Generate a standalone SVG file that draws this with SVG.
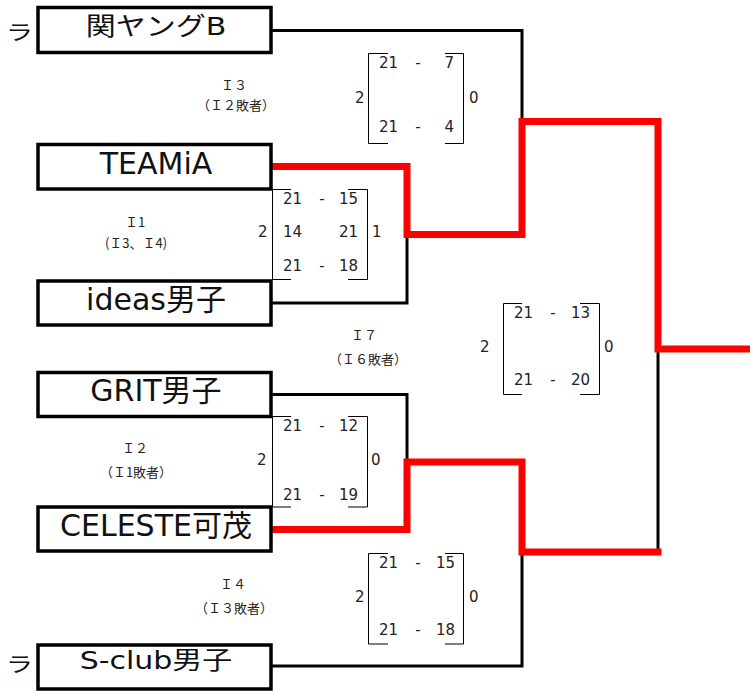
<svg xmlns="http://www.w3.org/2000/svg" width="750" height="691" viewBox="0 0 750 691">
<style>
.box{fill:#fff;stroke:#000;stroke-width:3.5}
.name{font-family:"DejaVu Sans","Noto Sans CJK JP",sans-serif;font-size:30px;fill:#111;text-anchor:middle}
.ra{font-family:"Noto Sans CJK JP",sans-serif;font-size:27px;fill:#111}
.lbl{font-family:"Noto Sans CJK JP",sans-serif;font-size:13px;fill:#222;text-anchor:middle}
.sc{font-family:"DejaVu Sans",sans-serif;font-size:15px;fill:#222}
.br{fill:none;stroke:#000;stroke-width:1}
.blk{fill:none;stroke:#000;stroke-width:3}
.red{fill:none;stroke:#f00;stroke-width:7;stroke-linejoin:miter;stroke-linecap:square}
</style>
<rect width="750" height="691" fill="#fff"/>
<g id="connectors">
<path class="blk" d="M271,30.5 H522 V122"/>
<path class="blk" d="M271,303 H407 V234"/>
<path class="blk" d="M271,394.5 H407 V462"/>
<path class="blk" d="M271,666 H522 V552"/>
<path class="blk" d="M658,349 V552"/>
<path class="red" d="M274,166.5 H407 V234.5 H522 V121.5 H658 V349 H750"/>
<path class="red" d="M274,529.5 H407 V462 H522 V552 H658"/>
</g>
<g id="team1">
<rect class="box" x="38" y="7.5" width="233" height="45"/>
<text class="ra" transform="translate(6,40) scale(1,0.76)">ラ</text>
<text class="name" transform="translate(156,35) scale(1,0.85)">関ヤングB</text>
</g>
<g id="team2">
<rect class="box" x="38" y="144.5" width="233" height="44.5"/>
<text class="name" x="156" y="174">TEAMiA</text>
</g>
<g id="team3">
<rect class="box" x="38" y="281" width="233" height="44"/>
<text class="name" x="156" y="310">ideas男子</text>
</g>
<g id="team4">
<rect class="box" x="38" y="372.5" width="233" height="44"/>
<text class="name" x="156" y="401">GRIT男子</text>
</g>
<g id="team5">
<rect class="box" x="38" y="507" width="233" height="44"/>
<text class="name" x="156" y="536">CELESTE可茂</text>
</g>
<g id="team6">
<rect class="box" x="38" y="645" width="233" height="44"/>
<text class="ra" transform="translate(6,672) scale(1,0.76)">ラ</text>
<text class="name" transform="translate(156,669) scale(1,0.82)">S-club男子</text>
</g>
<g id="label-I3">
<text class="lbl" x="234" y="90">Ｉ３</text>
<text class="lbl" x="236" y="110">（Ｉ２敗者）</text>
</g>
<g id="label-I1">
<text class="lbl" x="135" y="227">Ｉ1</text>
<text class="lbl" x="136" y="248">(Ｉ3、Ｉ4)</text>
</g>
<g id="label-I7">
<text class="lbl" x="364" y="340">Ｉ７</text>
<text class="lbl" x="368" y="364">（Ｉ６敗者）</text>
</g>
<g id="label-I2">
<text class="lbl" x="135" y="453">Ｉ２</text>
<text class="lbl" x="136" y="477">（Ｉ1敗者）</text>
</g>
<g id="label-I4">
<text class="lbl" x="233" y="589">Ｉ４</text>
<text class="lbl" x="234" y="613">（Ｉ３敗者）</text>
</g>
<g id="score-I3">
<path class="br" d="M388,53.5 H368.5 V143.5 H388 M445,53.5 H463.5 V143.5 H445"/>
<text class="sc" x="379" y="68">21</text><text class="sc" x="418" y="68" text-anchor="middle">-</text><text class="sc" x="454" y="68" text-anchor="end">7</text>
<text class="sc" x="379" y="132">21</text><text class="sc" x="418" y="132" text-anchor="middle">-</text><text class="sc" x="454" y="132" text-anchor="end">4</text>
<text class="sc" x="355" y="103">2</text><text class="sc" x="469" y="103">0</text>
</g>
<g id="score-I1">
<path class="br" d="M291,189.5 H272.5 V279.5 H291 M348,189.5 H367.5 V279.5 H348"/>
<text class="sc" x="283" y="204">21</text><text class="sc" x="322" y="204" text-anchor="middle">-</text><text class="sc" x="358" y="204" text-anchor="end">15</text>
<text class="sc" x="283" y="237">14</text><text class="sc" x="358" y="237" text-anchor="end">21</text>
<text class="sc" x="283" y="271">21</text><text class="sc" x="322" y="271" text-anchor="middle">-</text><text class="sc" x="358" y="271" text-anchor="end">18</text>
<text class="sc" x="258" y="237">2</text><text class="sc" x="372" y="237">1</text>
</g>
<g id="score-I7">
<path class="br" d="M522,303.5 H503.5 V394.5 H522 M580,303.5 H599.5 V394.5 H580"/>
<text class="sc" x="514" y="318">21</text><text class="sc" x="553" y="318" text-anchor="middle">-</text><text class="sc" x="590" y="318" text-anchor="end">13</text>
<text class="sc" x="514" y="385">21</text><text class="sc" x="553" y="385" text-anchor="middle">-</text><text class="sc" x="590" y="385" text-anchor="end">20</text>
<text class="sc" x="480" y="352">2</text><text class="sc" x="604" y="352">0</text>
</g>
<g id="score-I2">
<path class="br" d="M291,416.5 H272.5 V507 H291 M348,416.5 H367.5 V507 H348"/>
<text class="sc" x="283" y="431">21</text><text class="sc" x="322" y="431" text-anchor="middle">-</text><text class="sc" x="358" y="431" text-anchor="end">12</text>
<text class="sc" x="283" y="500">21</text><text class="sc" x="322" y="500" text-anchor="middle">-</text><text class="sc" x="358" y="500" text-anchor="end">19</text>
<text class="sc" x="257" y="465">2</text><text class="sc" x="371" y="465">0</text>
</g>
<g id="score-I4">
<path class="br" d="M388,553.5 H368.5 V644 H388 M445,553.5 H463.5 V644 H445"/>
<text class="sc" x="379" y="568">21</text><text class="sc" x="418" y="568" text-anchor="middle">-</text><text class="sc" x="455" y="568" text-anchor="end">15</text>
<text class="sc" x="379" y="635">21</text><text class="sc" x="418" y="635" text-anchor="middle">-</text><text class="sc" x="455" y="635" text-anchor="end">18</text>
<text class="sc" x="355" y="602">2</text><text class="sc" x="469" y="602">0</text>
</g>
</svg>
